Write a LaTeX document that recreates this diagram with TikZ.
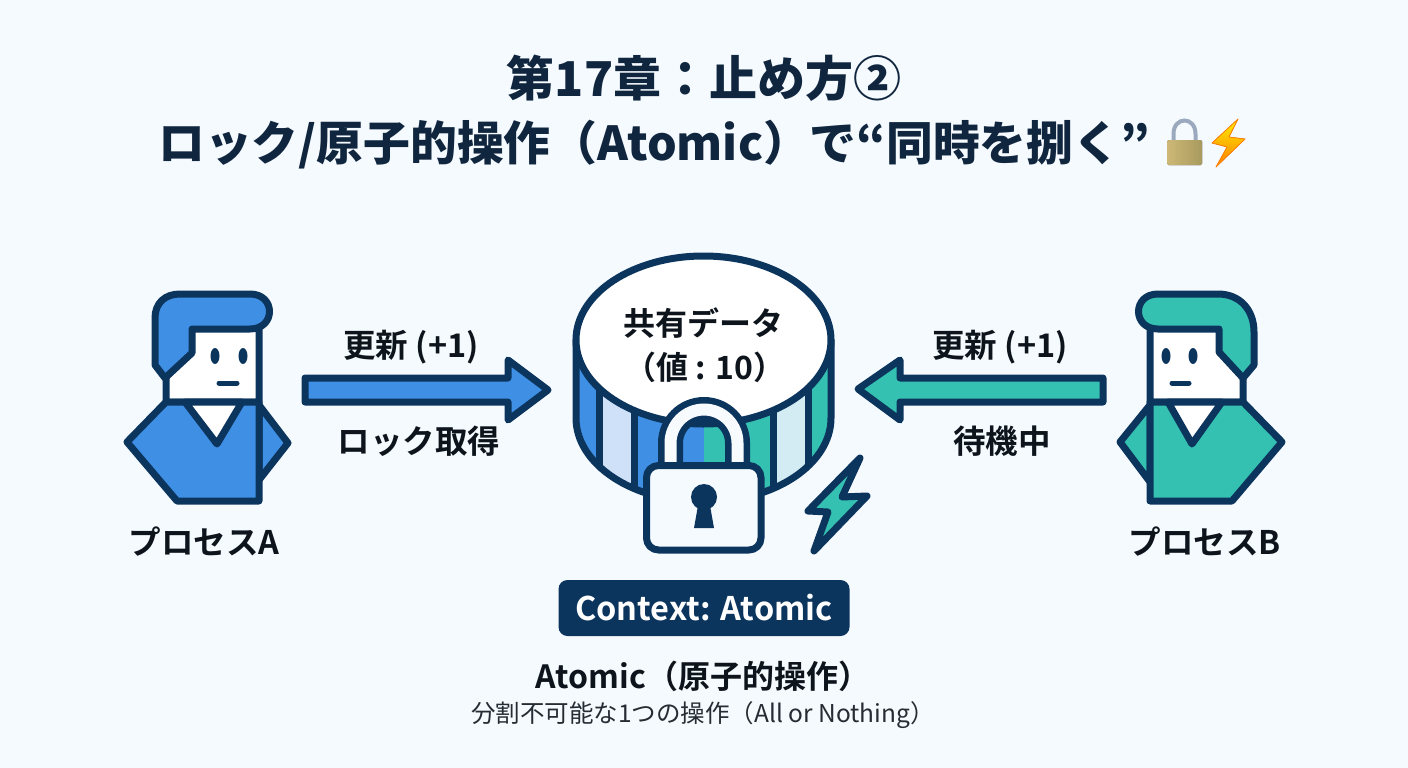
\documentclass[tikz,border=0pt]{standalone}
\usepackage{fontspec}
\newfontfamily\jpb{Noto Sans CJK JP Bold}
\newfontfamily\jpk{Noto Sans CJK JP Black}
\newfontfamily\jpr{Noto Sans CJK JP}
\definecolor{navy}{HTML}{0C355E}
\definecolor{paper}{HTML}{F5FAFE}
\definecolor{bluefill}{HTML}{3F8FE5}
\definecolor{tealfill}{HTML}{35C1B1}
\definecolor{paleblue}{HTML}{CFE1F8}
\definecolor{paleteal}{HTML}{D3ECF3}
\definecolor{inkdark}{HTML}{0D141C}
\definecolor{titleink}{HTML}{10263F}
\definecolor{brassL}{HTML}{CDB876}
\definecolor{brassR}{HTML}{A89A5E}
\definecolor{steel}{HTML}{9BA9BE}
\tikzset{
  outline/.style={draw=navy,line width=7pt,line join=round,line cap=round},
  txt/.style={inner sep=0pt,text=inkdark,font=\jpb},
  titletxt/.style={inner sep=0pt,text=titleink},
  lbl/.style={txt,font=\jpb\fontsize{32.5}{38}\selectfont},
}
\begin{document}
\begin{tikzpicture}[x=1pt,y=-1pt]
\useasboundingbox (0,0) rectangle (1408,768);
\fill[paper] (0,0) rectangle (1408,768);

% heading
\node[titletxt,font=\jpk\fontsize{48}{54}\selectfont] (title1) at (704,78) {第17章：止め方②};
\node[titletxt,font=\jpk\fontsize{46.8}{54}\selectfont] (title2) at (654,145) {ロック/原子的操作（Atomic）で“同時を捌く”};

% padlock emoji
\draw[line width=4pt,color=steel] (1173.5,142) -- (1173.5,134) .. controls (1173.5,116) and (1195.5,116) .. (1195.5,134) -- (1195.5,142);
\fill[left color=brassL,right color=brassR,rounded corners=1.5pt] (1167,140) rectangle (1202,165);
% lightning emoji
\fill[top color=yellow!85!orange,bottom color=orange,draw=orange,line width=.8pt,line join=round]
  (1238,119) -- (1212,143) -- (1227,147) -- (1216,167) -- (1245,139) -- (1229,137) -- cycle;

% process A
\filldraw[outline,fill=white] (166,378) -- (166,402) -- (259,402) -- (259,328) -- (192,328) -- cycle;
\filldraw[outline,fill=bluefill] (259,405) -- (288,443) -- (259,480) -- cycle;
\filldraw[outline,fill=bluefill] (166,402) -- (127,442) -- (177,501) -- (259,501) -- (259,402) -- cycle;
\filldraw[outline,fill=white] (185,402) -- (217,444) -- (242,402) -- cycle;
\filldraw[outline,fill=bluefill] (165,378) -- (155,365) -- (155,318) .. controls (155,303) and (165,294) .. (180,294) -- (250,294) .. controls (276,294) and (276,329) .. (250,329) -- (192,329) -- (192,353) -- cycle;
\fill[navy] (215,356) ellipse [x radius=4.5,y radius=8] (243,356) ellipse [x radius=4.5,y radius=8];
\draw[navy,line width=5pt,line cap=round] (219,383) -- (237,383);

% process B
\filldraw[outline,fill=white] (1243,378) -- (1243,402) -- (1150,402) -- (1150,328) -- (1219,328) -- cycle;
\filldraw[outline,fill=tealfill] (1150,405) -- (1120,442) -- (1150,482) -- cycle;
\filldraw[outline,fill=tealfill] (1243,402) -- (1282,442) -- (1232,501) -- (1150,501) -- (1150,402) -- cycle;
\filldraw[outline,fill=white] (1168,402) -- (1192,444) -- (1222,402) -- cycle;
\filldraw[outline,fill=tealfill] (1243,378) -- (1254,365) -- (1254,332) .. controls (1254,310) and (1240,294) .. (1218,294) -- (1158,294) .. controls (1132,294) and (1132,329) .. (1158,329) -- (1219,329) -- (1219,352) -- cycle;
\fill[navy] (1166,356) ellipse [x radius=4.5,y radius=8] (1193,356) ellipse [x radius=4.5,y radius=8];
\draw[navy,line width=5pt,line cap=round] (1172,383) -- (1189,383);

% block arrows
\filldraw[outline,fill=bluefill] (305,378) -- (508,378) -- (508,360) -- (548,390) -- (508,420) -- (508,402) -- (305,402) -- cycle;
\filldraw[outline,fill=tealfill] (1103,378) -- (900,378) -- (900,360) -- (858,389) -- (900,420) -- (900,402) -- (1103,402) -- cycle;

% shared data cylinder
\begin{scope}
  \clip (576,340) -- (576,418) .. controls (576,464) and (632,502) .. (703.5,502) .. controls (775,502) and (831,464) .. (831,418) -- (831,340) -- cycle;
  \fill[bluefill] (570,330) rectangle (703.5,510);
  \fill[tealfill] (703.5,330) rectangle (840,510);
  \fill[paleblue] (599,330) rectangle (634,510);
  \fill[paleteal] (773,330) rectangle (808,510);
  \draw[navy,line width=7pt] (599,330) -- (599,510) (634,330) -- (634,510) (773,330) -- (773,510) (808,330) -- (808,510);
\end{scope}
\draw[outline] (576,340) -- (576,418) .. controls (576,464) and (632,502) .. (703.5,502) .. controls (775,502) and (831,464) .. (831,418) -- (831,340);
\filldraw[outline,fill=white] (703.5,340) ellipse [x radius=127.5,y radius=84];
\node[lbl,font=\jpb\fontsize{32}{38}\selectfont] (data1) at (703,323) {共有データ};
\node[lbl,font=\jpb\fontsize{32}{38}\selectfont] (data2) at (705,367) {（値 : 10）};

% padlock
\draw[navy,line width=25pt,rounded corners=33.5pt] (670.5,475) -- (670.5,409.5) -- (737.5,409.5) -- (737.5,475);
\draw[white!30!paper,line width=12pt,rounded corners=33.5pt] (670.5,475) -- (670.5,409.5) -- (737.5,409.5) -- (737.5,475);
\filldraw[outline,fill=paper,rounded corners=12pt] (646.5,465.5) rectangle (761,550);
\fill[navy] (704,497) circle [radius=13];
\fill[navy] (699,500) -- (709,500) -- (714,528) -- (694,528) -- cycle;

% lightning mark
\filldraw[outline,fill=tealfill] (860,458) -- (808,511) -- (828,512) -- (814,551) -- (867,496) -- (842,497) -- cycle;

% labels
\node[lbl] (updA) at (411,347) {更新 (+1)};
\node[lbl] (lockA) at (419,441) {ロック取得};
\node[lbl] (updB) at (1000,347) {更新 (+1)};
\node[lbl] (waitB) at (1002,441) {待機中};
\node[lbl] (nameA) at (204,542) {プロセスA};
\node[lbl] (nameB) at (1205,542) {プロセスB};

% context badge
\node[fill=navy,rounded corners=9pt,minimum width=291pt,minimum height=56pt,inner sep=0pt,text=white,font=\jpb\fontsize{32.5}{38}\selectfont] (badge) at (704,608) {Context: Atomic};
\node[txt,font=\jpb\fontsize{32}{38}\selectfont] (term) at (703,676) {Atomic（原子的操作）};
\node[txt,font=\jpr\fontsize{24.5}{30}\selectfont,text=inkdark!90] (gloss) at (703,715) {分割不可能な1つの操作（All or Nothing）};
\end{tikzpicture}
\end{document}
